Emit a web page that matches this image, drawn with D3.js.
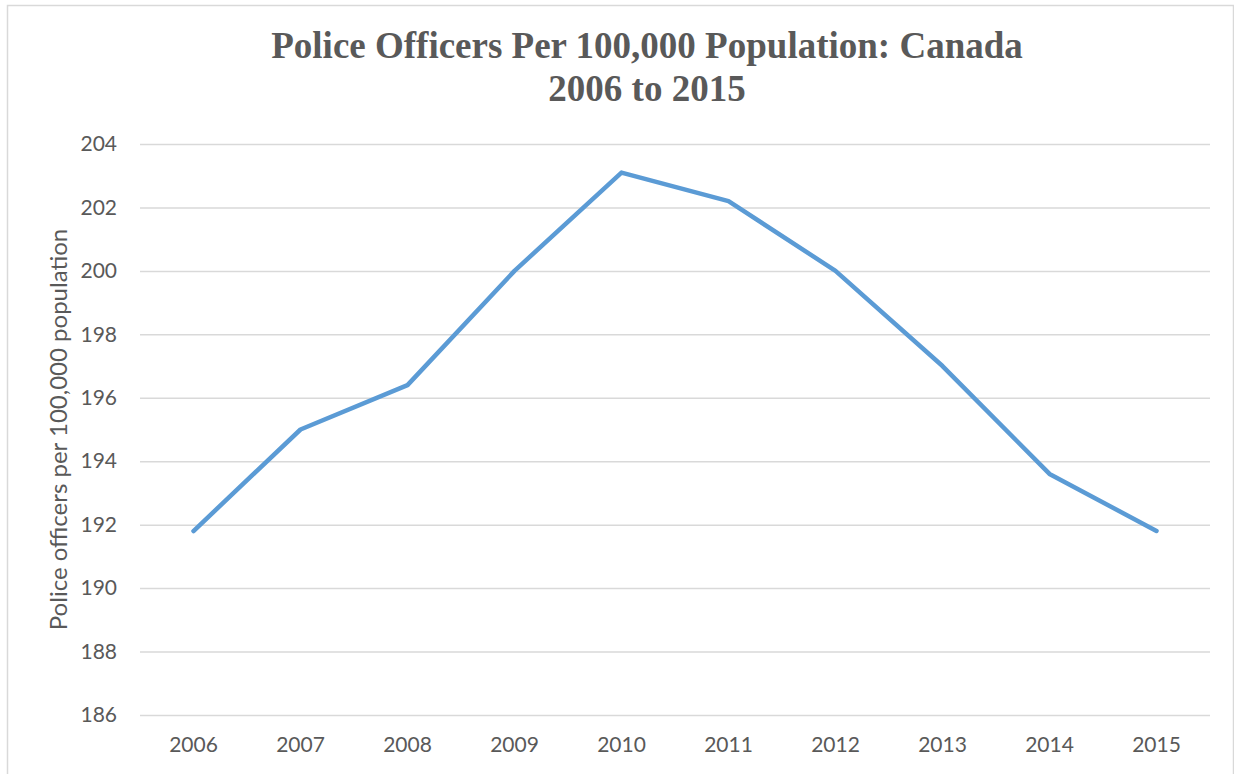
<!DOCTYPE html>
<html>
<head>
<meta charset="utf-8">
<script src="https://cdn.jsdelivr.net/npm/d3@7"></script>
<style>
  html, body { margin: 0; padding: 0; background: #fff; }
  svg { display: block; }
</style>
</head>
<body>
<svg id="chart" width="1234" height="774"></svg>
<script>
// Police officers per 100,000 population, Canada
const years = ["2006", "2007", "2008", "2009", "2010", "2011", "2012", "2013", "2014", "2015"];
const officersPer100k = [191.8, 195.0, 196.4, 200.0, 203.1, 202.2, 200.0, 197.0, 193.6, 191.8];
const yTicks = [186, 188, 190, 192, 194, 196, 198, 200, 202, 204];
const titleLines = ["Police Officers Per 100,000 Population: Canada", "2006 to 2015"];
const yAxisTitle = "Police officers per 100,000 population";

const W = 1234, H = 774;
const margin = { left: 140, right: 24, top: 144, bottom: 59 };
const plotW = W - margin.left - margin.right;
const plotH = H - margin.top - margin.bottom;

const textGray = "#595959";
const gridGray = "#d9d9d9";
const lineBlue = "#5b9bd5";
const labelFont = "Lato, 'Open Sans', sans-serif";

const svg = d3.select("#chart");

// Chart area frame
svg.append("rect")
  .attr("x", 7.5).attr("y", 5.5)
  .attr("width", W - 8).attr("height", H)
  .attr("fill", "#fff")
  .attr("stroke", gridGray)
  .attr("stroke-width", 1.5);

const x = d3.scaleBand().domain(years).range([0, plotW]);
const y = d3.scaleLinear().domain([186, 204]).range([plotH, 0]);

const g = svg.append("g").attr("transform", `translate(${margin.left},${margin.top})`);

// Horizontal gridlines + y tick labels
const yAxis = d3.axisLeft(y).tickValues(yTicks).tickSize(-plotW).tickPadding(23).tickFormat(d3.format("d"));
const yg = g.append("g").call(yAxis);
yg.select(".domain").remove();
yg.selectAll(".tick line").attr("stroke", gridGray).attr("stroke-width", 1.5);
yg.selectAll(".tick text")
  .attr("fill", textGray)
  .style("font-family", labelFont)
  .style("font-size", "21px");

// Category axis labels
const xAxis = d3.axisBottom(x).tickSize(0).tickPadding(22);
const xg = g.append("g").attr("transform", `translate(0,${plotH})`).call(xAxis);
xg.select(".domain").remove();
xg.selectAll(".tick text")
  .attr("fill", textGray)
  .style("font-family", labelFont)
  .style("font-size", "21px");

// Series line
const line = d3.line()
  .x((d, i) => x(years[i]) + x.bandwidth() / 2)
  .y(d => y(d));

g.append("path")
  .datum(officersPer100k)
  .attr("d", line)
  .attr("fill", "none")
  .attr("stroke", lineBlue)
  .attr("stroke-width", 4.5)
  .attr("stroke-linejoin", "round")
  .attr("stroke-linecap", "round");

// Y axis title
svg.append("text")
  .attr("transform", `translate(67,${margin.top + plotH / 2}) rotate(-90)`)
  .attr("text-anchor", "middle")
  .attr("fill", textGray)
  .style("font-family", labelFont)
  .style("font-size", "24px")
  .text(yAxisTitle);

// Title
const title = svg.append("text")
  .attr("text-anchor", "middle")
  .attr("fill", textGray)
  .style("font-family", "'Liberation Serif', 'Times New Roman', serif")
  .style("font-weight", "bold")
  .style("font-size", "37px");
title.selectAll("tspan")
  .data(titleLines)
  .join("tspan")
  .attr("x", 647)
  .attr("y", (d, i) => 58 + i * 43)
  .text(d => d);
</script>
</body>
</html>
